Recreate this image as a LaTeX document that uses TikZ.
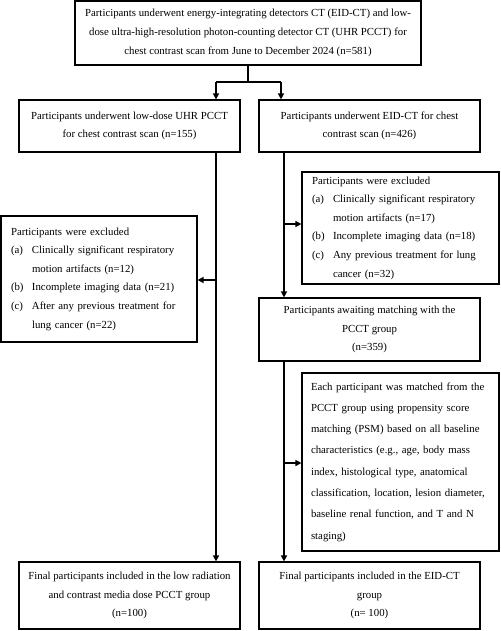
\documentclass[tikz,border=0pt]{standalone}
\usepackage{fontspec}
\setmainfont{Liberation Serif}
\usetikzlibrary{arrows.meta}
\tikzset{
  box/.style={draw, line width=1.2pt, inner sep=0pt, align=center,
    font=\fontsize{10.8}{18.6}\selectfont},
  lbox/.style={draw, line width=1.2pt, inner ysep=0pt, inner xsep=10pt, align=left,
    font=\fontsize{10.8}{18.6}\selectfont},
  conn/.style={line width=1.6pt, -{Triangle[length=6pt,width=6pt]}},
  plain/.style={line width=1.6pt}
}
\newcommand{\itm}[1]{\makebox[21pt][l]{#1}}
\newcommand{\ind}{\hspace*{21pt}}
\begin{document}
\begin{tikzpicture}[x=1pt,y=-1pt]
\useasboundingbox (0,0) rectangle (500,631);
\node[box, minimum width=346pt, minimum height=64pt] (top) at (248,33)
 {Participants underwent energy-integrating detectors CT (EID-CT) and low-\\
  dose ultra-high-resolution photon-counting detector CT (UHR PCCT) for\\
  chest contrast scan from June to December 2024 (n=581)};
\node[box, minimum width=221pt, minimum height=52pt] (l2) at (129.5,126)
 {Participants underwent low-dose UHR PCCT\\ for chest contrast scan (n=155)};
\node[box, minimum width=221pt, minimum height=52pt] (r2) at (369.5,126)
 {Participants underwent EID-CT for chest\\ contrast scan (n=426)};
\node[lbox, text width=176pt, minimum height=126pt] (exl) at (99,279)
 {Participants were excluded\\
  \itm{(a)}Clinically significant respiratory\\
  \ind motion artifacts (n=12)\\
  \itm{(b)}Incomplete imaging data (n=21)\\
  \itm{(c)}After any previous treatment for\\
  \ind lung cancer (n=22)};
\node[lbox, text width=177pt, minimum height=112pt] (exr) at (400.5,228)
 {Participants were excluded\\
  \itm{(a)}Clinically significant respiratory\\
  \ind motion artifacts (n=17)\\
  \itm{(b)}Incomplete imaging data (n=18)\\
  \itm{(c)}Any previous treatment for lung\\
  \ind cancer (n=32)};
\node[box, minimum width=221pt, minimum height=63pt] (match) at (369.5,329.5)
 {Participants awaiting matching with the\\ PCCT group\\ (n=359)};
\node[lbox, text width=179pt, inner xsep=9pt, minimum height=178pt,
  font=\fontsize{10.8}{21.3}\selectfont] (psm) at (400.5,462)
 {Each participant was matched from the\\
  PCCT group using propensity score\\
  matching (PSM) based on all baseline\\
  characteristics (e.g., age, body mass\\
  index, histological type, anatomical\\
  classification, location, lesion diameter,\\
  baseline renal function, and T and N\\
  staging)};
\node[box, minimum width=221pt, minimum height=67pt] (finl) at (129.5,595.5)
 {Final participants included in the low radiation\\ and contrast media dose PCCT group\\ (n=100)};
\node[box, minimum width=221pt, minimum height=67pt] (finr) at (369.5,595.5)
 {Final participants included in the EID-CT\\ group\\ (n= 100)};
% connectors
\coordinate (split) at (248,82);
\coordinate (sl) at (216,82);
\coordinate (sr) at (281,82);
\draw[plain] (top.south) -- (split);
\draw[plain] (sl) -- (sr);
\draw[conn] (sl) -- (sl |- l2.north);
\draw[conn] (sr) -- (sr |- r2.north);
% left column
\coordinate (lt) at (216,152);
\coordinate (lb) at (216,280);
\draw[conn] (lt) -- (lt |- finl.north);
\draw[conn] (lb) -- (lb -| exl.east);
% right column
\coordinate (rt) at (284,152);
\coordinate (rb) at (284,224);
\draw[conn] (rt) -- (rt |- match.north);
\draw[conn] (rb) -- (rb -| exr.west);
\coordinate (mt) at (284,361);
\coordinate (mb) at (284,463);
\draw[conn] (mt) -- (mt |- finr.north);
\draw[conn] (mb) -- (mb -| psm.west);
\end{tikzpicture}
\end{document}
